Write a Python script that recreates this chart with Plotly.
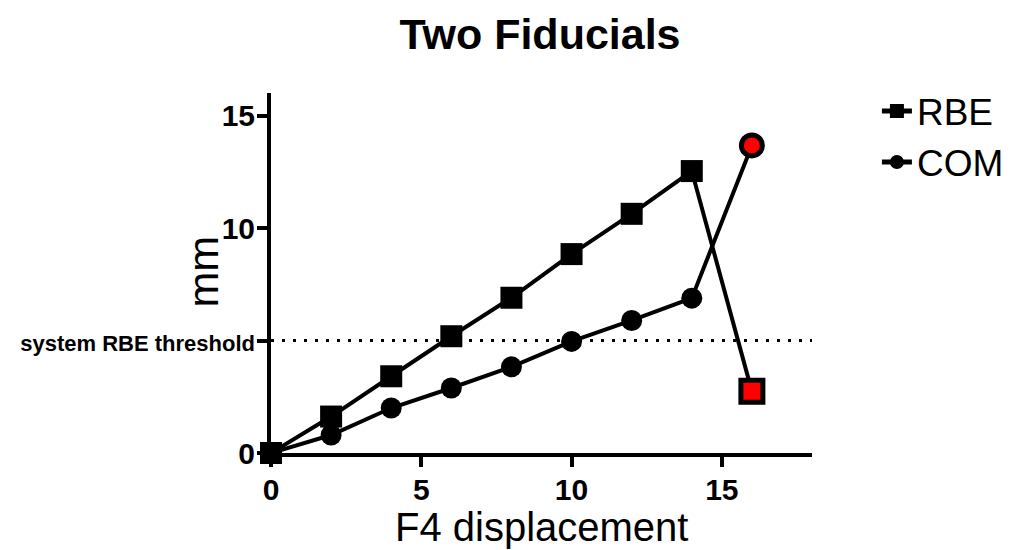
import plotly.graph_objects as go

x_disp = [0, 2, 4, 6, 8, 10, 12, 14, 16]
rbe = [0, 1.62, 3.41, 5.19, 6.9, 8.84, 10.63, 12.53, 2.74]
com = [0, 0.80, 2.0, 2.89, 3.83, 4.96, 5.89, 6.88, 13.67]
threshold = 5
y_tickvals = [0, 5, 10, 15]
y_ticktext = ["0", "<span style='font-size:22px'>system RBE threshold</span>", "10", "15"]
x_tickvals = [0, 5, 10, 15]

n = len(x_disp)
fill = ["black"] * (n - 1) + ["red"]
sq_size = [22] * (n - 1) + [22]
ci_size = [21] * (n - 1) + [21]
lw = [0] * (n - 1) + [5]

FONT = "Arial, Liberation Sans, sans-serif"

fig = go.Figure()
fig.add_trace(go.Scatter(
    x=x_disp, y=rbe, name="RBE", mode="lines+markers",
    line=dict(color="black", width=4),
    marker=dict(symbol="square", size=sq_size, color=fill, opacity=1,
                line=dict(color="black", width=lw)),
    cliponaxis=False,
))
fig.add_trace(go.Scatter(
    x=x_disp, y=com, name="COM", mode="lines+markers",
    line=dict(color="black", width=4),
    marker=dict(symbol="circle", size=ci_size, color=fill, opacity=1,
                line=dict(color="black", width=lw)),
    cliponaxis=False,
))

fig.add_shape(type="line", xref="x", yref="y", x0=0, x1=18, y0=threshold, y1=threshold,
              line=dict(color="black", width=3, dash="3px,8px"), layer="below")

fig.add_annotation(text="mm", xref="paper", yref="paper", x=-0.125, y=0.505,
                   xanchor="center", yanchor="middle", textangle=-90, showarrow=False,
                   font=dict(size=43, family=FONT, color="black"))
fig.add_annotation(text="F4 displacement", xref="paper", yref="paper", x=0.5, y=-0.2056,
                   xanchor="center", yanchor="middle", showarrow=False,
                   font=dict(size=40, family=FONT, color="black"))

fig.update_layout(
    width=1028, height=550,
    paper_bgcolor="white", plot_bgcolor="white",
    margin=dict(l=260, r=224, t=85, b=105),
    font=dict(family=FONT, color="black"),
    title=dict(text="<b>Two Fiducials</b>", x=0.5175, xanchor="center", y=0.952, yanchor="middle",
               font=dict(size=43, family=FONT, color="black")),
    legend=dict(x=1.12, y=1.035, xanchor="left", yanchor="top",
                font=dict(size=37, family=FONT, color="black"),
                itemsizing="constant", tracegroupgap=8, bgcolor="rgba(0,0,0,0)"),
    showlegend=True,
)
fig.update_xaxes(
    range=[0, 18], tickvals=x_tickvals, ticktext=[str(v) for v in x_tickvals],
    showgrid=False, zeroline=False, showline=True, linecolor="black", linewidth=4,
    ticks="outside", ticklen=10, tickwidth=4, tickcolor="black", ticklabelstandoff=-3,
    tickfont=dict(size=30, family=FONT, color="black", weight="bold"),
)
fig.update_yaxes(
    range=[0, 16], tickvals=y_tickvals, ticktext=y_ticktext,
    showgrid=False, zeroline=False, showline=True, linecolor="black", linewidth=4,
    ticks="outside", ticklen=10, tickwidth=4, tickcolor="black", ticklabelstandoff=-4,
    tickfont=dict(size=30, family=FONT, color="black", weight="bold"),
)

fig.write_html("out.html")
